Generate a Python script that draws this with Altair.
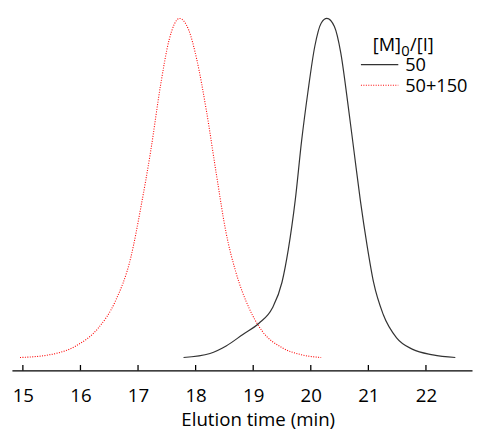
import altair as alt
import pandas as pd

# Series "50" (solid)
t50 = [17.79, 18.25, 18.53, 18.82, 19.10, 19.33, 19.50, 19.61, 19.73, 19.84, 19.95,
       20.07, 20.18, 20.28, 20.41, 20.52, 20.64, 20.75, 20.86, 20.98, 21.09, 21.26,
       21.49, 21.77, 22.12, 22.51]
y50 = [0.0, 0.012, 0.034, 0.068, 0.101, 0.145, 0.222, 0.319, 0.464, 0.638, 0.783,
       0.918, 0.986, 1.0, 0.976, 0.899, 0.754, 0.609, 0.464, 0.328, 0.222, 0.126,
       0.058, 0.024, 0.008, 0.0]

# Series "50+150" (dotted)
t200 = [14.95, 15.46, 15.92, 16.31, 16.60, 16.88, 17.05, 17.22, 17.39, 17.54, 17.72,
        17.88, 18.02, 18.19, 18.36, 18.53, 18.70, 18.93, 19.16, 19.50, 19.84, 20.18]
y200 = [0.0, 0.008, 0.034, 0.087, 0.164, 0.299, 0.444, 0.609, 0.802, 0.937, 1.0,
        0.966, 0.879, 0.725, 0.541, 0.367, 0.251, 0.145, 0.077, 0.029, 0.008, 0.0]

tick_values = [15, 16, 17, 18, 19, 20, 21, 22]
legend_title = ["[M]", "0", "/[I]"]
series_names = ["50", "50+150"]
x_title = "Elution time (min)"

FONT = "Open Sans"
W, H = 468, 358

df50 = pd.DataFrame({"t": t50, "s": y50})
df200 = pd.DataFrame({"t": t200, "s": y200})
dft = pd.DataFrame({"t": tick_values})

xs = alt.Scale(domain=[14.81, 22.8], nice=False, zero=False)
ys = alt.Scale(domain=[-0.038, 1.0], nice=False, zero=False)

xaxis = alt.Axis(values=tick_values, format="d", ticks=False, grid=False, domainColor="black",
                 domainWidth=1.5, labelFont=FONT, labelFontSize=19, labelColor="black",
                 labelPadding=17, title=x_title, titleFont=FONT, titleFontSize=19,
                 titleFontWeight="normal", titleColor="black", titlePadding=5, titleX=250,
                 labelFlush=False)

line50 = alt.Chart(df50).mark_line(color="#333333", strokeWidth=1.2, interpolate="monotone").encode(
    x=alt.X("t:Q", scale=xs, axis=xaxis),
    y=alt.Y("s:Q", scale=ys, axis=None),
)
line200 = alt.Chart(df200).mark_line(color="#ff0000", strokeWidth=1.1, strokeDash=[1, 1.5],
                                     interpolate="monotone").encode(
    x=alt.X("t:Q", scale=xs),
    y=alt.Y("s:Q", scale=ys, axis=None),
)
ticks = alt.Chart(dft).mark_rule(color="black", strokeWidth=1.3).encode(
    x=alt.X("t:Q", scale=xs),
    y=alt.value(H - 5.5),
    y2=alt.value(H),
)

# Manual legend (positions relative to plot origin at page (12,15))
ox, oy = 12, 15
base = alt.Chart(pd.DataFrame({"a": [0]}))
def txt(s, x, y, size):
    return base.mark_text(text=s, font=FONT, fontSize=size, align="left", baseline="alphabetic",
                          color="black").encode(x=alt.value(x - ox), y=alt.value(y - oy))

leg = [
    txt(legend_title[0], 379, 48, 18.5),
    txt(legend_title[1], 408, 53.5, 15),
    txt(legend_title[2], 417, 48, 18.5),
    txt(series_names[0], 412, 68, 18.5),
    txt(series_names[1], 412, 90, 18.5),
    base.mark_rule(color="#333333", strokeWidth=1.2).encode(
        x=alt.value(367 - ox), x2=alt.value(405 - ox), y=alt.value(62 - oy)),
    base.mark_rule(color="#ff0000", strokeWidth=1.1, strokeDash=[1, 1.5]).encode(
        x=alt.value(367 - ox), x2=alt.value(405 - ox), y=alt.value(83 - oy)),
]

chart = alt.layer(line200, line50, ticks, *leg).properties(
    width=W, height=H,
    autosize=alt.AutoSizeParams(type="none"),
    padding={"left": 4, "top": 7, "right": 1, "bottom": 57},
).configure_view(strokeWidth=0)

chart.save("out.html", embed_options={"renderer": "svg", "actions": False})
